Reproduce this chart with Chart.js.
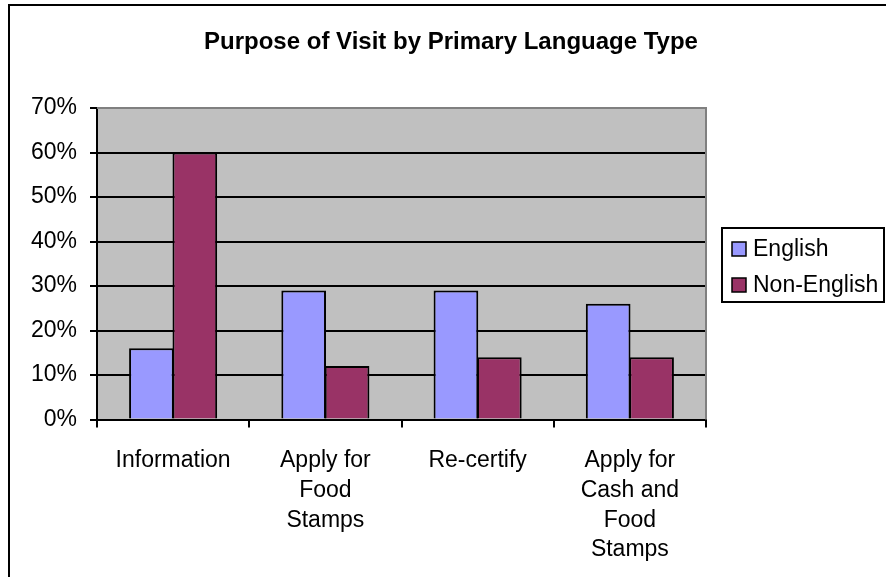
<!DOCTYPE html>
<html>
<head>
<meta charset="utf-8">
<script src="https://cdn.jsdelivr.net/npm/chart.js@4"></script>
<style>
  html, body { margin: 0; padding: 0; background: #ffffff; }
  #wrap { width: 886px; height: 577px; position: relative; }
</style>
</head>
<body>
<div id="wrap"><canvas id="c" width="886" height="577"></canvas></div>
<script>
const chartTitle = "Purpose of Visit by Primary Language Type";
const categories = ["Information", ["Apply for", "Food", "Stamps"], "Re-certify", ["Apply for", "Cash and", "Food", "Stamps"]];
const seriesNames = ["English", "Non-English"];
const englishValues = [16, 29, 29, 26];
const nonEnglishValues = [60, 12, 14, 14];
const yTicks = [0, 10, 20, 30, 40, 50, 60, 70];

const FONT = "'Liberation Sans', Arial, Helvetica, sans-serif";

const framePlugin = {
  id: 'frame',
  beforeDraw(chart) {
    const ctx = chart.ctx, a = chart.chartArea;
    ctx.save();
    ctx.fillStyle = '#ffffff';
    ctx.fillRect(0, 0, chart.width, chart.height);
    ctx.strokeStyle = '#000000';
    ctx.lineWidth = 2;
    ctx.beginPath();
    ctx.moveTo(9, chart.height + 2);
    ctx.lineTo(9, 5);
    ctx.lineTo(chart.width + 2, 5);
    ctx.stroke();
    ctx.fillStyle = '#C0C0C0';
    ctx.fillRect(a.left, a.top, a.right - a.left, a.bottom - a.top);
    // title
    ctx.fillStyle = '#000000';
    ctx.font = 'bold 24px ' + FONT;
    ctx.textAlign = 'center';
    ctx.textBaseline = 'middle';
    ctx.fillText(chartTitle, 451, 42);
    ctx.restore();
  },
  afterDatasetsDraw(chart) {
    const ctx = chart.ctx, a = chart.chartArea;
    ctx.save();
    ctx.strokeStyle = '#808080';
    ctx.lineWidth = 2;
    ctx.beginPath();
    ctx.moveTo(a.left, a.top);
    ctx.lineTo(a.right, a.top);
    ctx.lineTo(a.right, a.bottom);
    ctx.stroke();
    ctx.restore();
  },
  afterDraw(chart) {
    const ctx = chart.ctx;
    ctx.save();
    const bx = 722, by = 228, bw = 162, bh = 74;
    ctx.fillStyle = '#ffffff';
    ctx.fillRect(bx, by, bw, bh);
    ctx.strokeStyle = '#000000';
    ctx.lineWidth = 2;
    ctx.strokeRect(bx, by, bw, bh);
    const rows = [249, 285];
    chart.data.datasets.forEach((ds, i) => {
      const cy = rows[i];
      ctx.fillStyle = ds.backgroundColor;
      ctx.fillRect(732, cy - 7, 14, 14);
      ctx.lineWidth = 1.5;
      ctx.strokeStyle = '#000000';
      ctx.strokeRect(732, cy - 7, 14, 14);
      ctx.fillStyle = '#000000';
      ctx.font = '23px ' + FONT;
      ctx.textBaseline = 'middle';
      ctx.textAlign = 'left';
      ctx.fillText(ds.label, 753, cy + 1);
    });
    ctx.restore();
  }
};

new Chart(document.getElementById('c'), {
  type: 'bar',
  data: {
    labels: categories,
    datasets: [
      { label: seriesNames[0], data: englishValues, backgroundColor: '#9999FF', borderColor: '#000000', borderWidth: 2 },
      { label: seriesNames[1], data: nonEnglishValues, backgroundColor: '#993366', borderColor: '#000000', borderWidth: 2 }
    ]
  },
  options: {
    responsive: false,
    animation: false,
    devicePixelRatio: 1,
    layout: { padding: { left: 0, right: 180, top: 108, bottom: 0 } },
    datasets: { bar: { categoryPercentage: 0.57, barPercentage: 1.03 } },
    plugins: {
      legend: { display: false },
      tooltip: { enabled: false },
      title: { display: false }
    },
    scales: {
      x: {
        grid: { display: true, drawOnChartArea: false, drawTicks: true, tickLength: 8, color: '#000000', lineWidth: 2, offset: true },
        border: { display: true, color: '#000000', width: 2 },
        ticks: { color: '#000000', font: { family: FONT, size: 23, lineHeight: 1.3 }, padding: 18, maxRotation: 0, autoSkip: false },
        afterFit(scale) { scale.height = 157.5; }
      },
      y: {
        min: 0, max: 70,
        afterBuildTicks(scale) { scale.ticks = yTicks.map(v => ({ value: v })); },
        grid: { color: '#000000', lineWidth: 2, drawTicks: true, tickLength: 7 },
        border: { display: true, color: '#000000', width: 2 },
        ticks: { color: '#000000', font: { family: FONT, size: 23 }, padding: 13, callback: v => v + '%' },
        afterFit(scale) { scale.width = 97; }
      }
    }
  },
  plugins: [framePlugin]
});
</script>
</body>
</html>
